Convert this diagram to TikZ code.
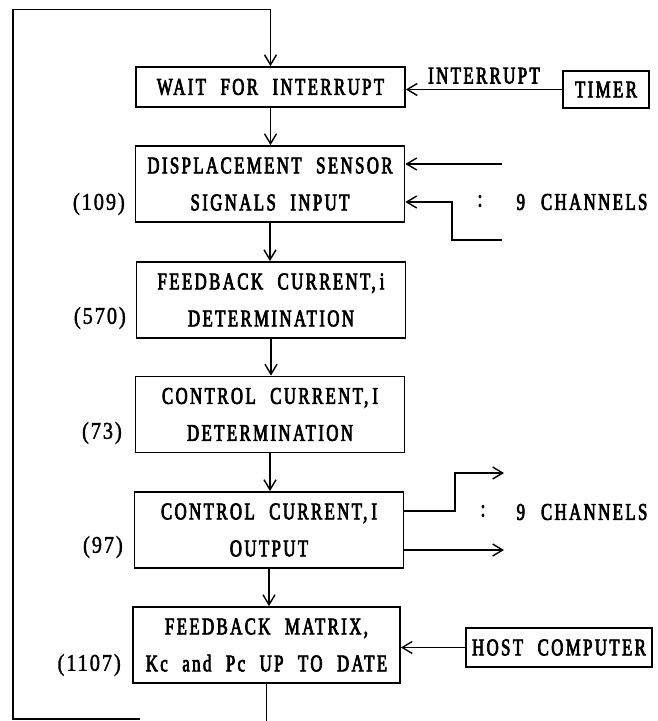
\documentclass[tikz,border=0pt]{standalone}
\usepackage{fontspec}
\usetikzlibrary{arrows.meta}
% Condensed, tracked serif for the flowchart lettering
\newfontfamily\chartfont[FakeStretch=0.7,LetterSpace=10,WordSpace=2.2,FakeBold=3]{Liberation Serif}
\newfontfamily\numfont[FakeStretch=0.85,LetterSpace=8,FakeBold=1.5]{Liberation Serif}

\begin{document}
\begin{tikzpicture}[x=1pt,y=-1pt,
  box/.style={draw,line width=1.8pt,minimum width=269pt,minimum height=76pt,
    inner sep=0pt,align=center,font=\chartfont\fontsize{24}{37}\selectfont},
  txt/.style={inner sep=1pt,font=\chartfont\fontsize{24}{25}\selectfont},
  num/.style={inner sep=0pt,anchor=east,font=\numfont\fontsize{24}{25}\selectfont},
  conn/.style={line width=1.6pt},
  arr/.style={conn,-{Straight Barb[length=10pt,width=12pt,line width=1.4pt]}}]
\useasboundingbox (0,0) rectangle (658,721);

% processing steps
\node[box,minimum height=40pt] (wait) at (270.5,87) {WAIT FOR INTERRUPT};
\node[box,minimum width=86pt,minimum height=37pt] (timer) at (606,89.5) {TIMER};
\node[box] (disp) at (270,184) {DISPLACEMENT SENSOR\\SIGNALS INPUT};
\node[box] (fbc) at (271,300) {FEEDBACK CURRENT,\,i\\DETERMINATION};
\node[box] (ccd) at (270,414.5) {CONTROL CURRENT,\,I\\DETERMINATION};
\node[box] (cco) at (269,530) {CONTROL CURRENT,\,I\\OUTPUT};
\node[box,minimum width=267pt] (fbm) at (266.5,645) {FEEDBACK MATRIX,\\Kc and Pc UP TO DATE};
\node[box,minimum width=186pt,minimum height=39pt] (host) at (559,647.5) {HOST COMPUTER};

% step times
\node[num] (n109) at (125,204) {(109)};
\node[num] (n570) at (126,318) {(570)};
\node[num] (n73) at (122,433) {(73)};
\node[num] (n97) at (123,547) {(97)};
\node[num] (n1107) at (121,665) {(1107)};

% main flow
\draw[arr] (wait.south) -- (wait.south |- disp.north);
\draw[arr] (disp.south) -- (disp.south |- fbc.north);
\draw[arr] (fbc.south) -- (fbc.south |- ccd.north);
\draw[arr] (ccd.south) -- (ccd.south |- cco.north);
\draw[arr] (cco.south) -- (cco.south |- fbm.north);
\coordinate (bot) at (267,721);
\draw[conn] (fbm.south) -- (fbm.south |- bot);

% return loop
\coordinate (loopend) at (140,719);
\draw[arr] (loopend) -- (13,719) -- (13,9.5) -| (wait.north);

% timer interrupt
\draw[arr] (timer.west) -- (timer.west -| wait.east)
  node[midway,above=4pt,txt] (intlbl) {INTERRUPT};

% sensor inputs
\coordinate (in1) at (502,164);
\coordinate (in2) at (502,240);
\draw[arr] (in1) -- (in1 -| disp.east);
\draw[arr] (in2) -- (452,240) -- (452,202) -- (disp.east |- 0,202);
\node[txt] (dots1) at (480,201) {:};
\node[txt] (ch1) at (582,202) {9\hspace{16pt}CHANNELS};

% current outputs
\coordinate (out1) at (504,473);
\coordinate (out2) at (504,550);
\draw[arr] (cco.east |- 0,511) -- (455,511) -- (455,473) -- (out1);
\draw[arr] (cco.east |- 0,550) -- (out2);
\node[txt] (dots2) at (483,511) {:};
\node[txt] (ch2) at (582,512) {9\hspace{16pt}CHANNELS};

% host update
\draw[arr] (host.west) -- (host.west -| fbm.east);
\end{tikzpicture}
\end{document}
